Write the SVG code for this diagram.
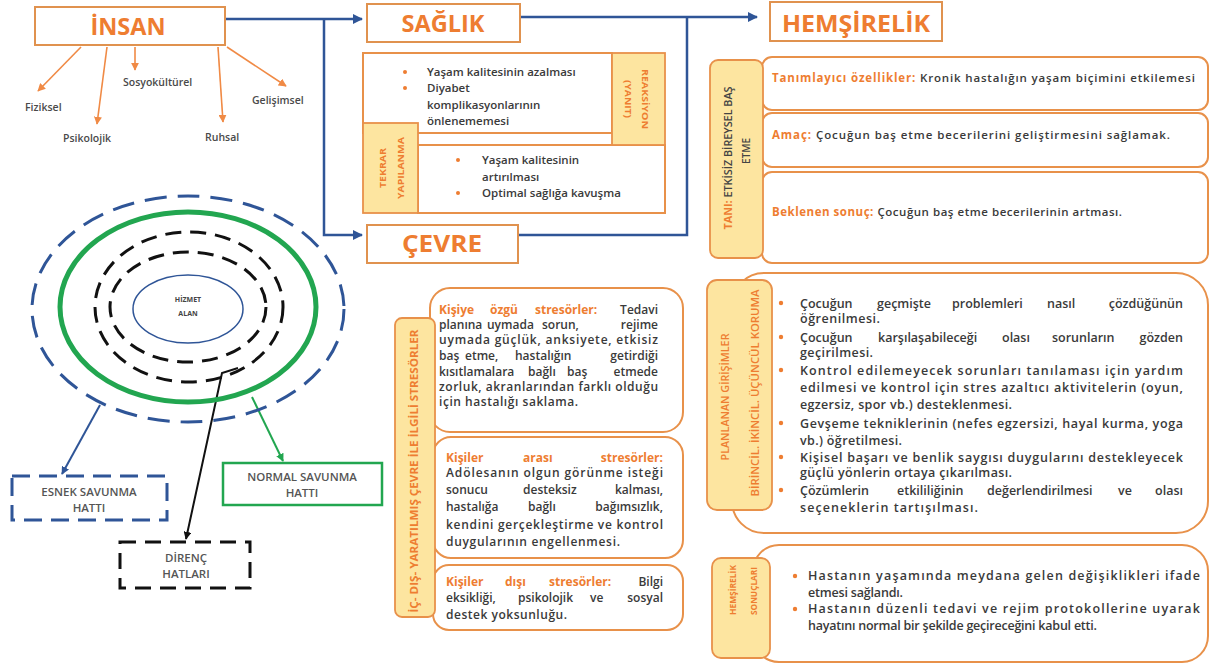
<svg xmlns="http://www.w3.org/2000/svg" width="1210" height="666" viewBox="0 0 1210 666">
<style>
text{font-family:"Open Sans","Liberation Sans",sans-serif;}
.title{font-size:24px;font-weight:700;fill:#ee7d31;text-anchor:middle;}
.tbox{fill:#fff;stroke:#e0924f;stroke-width:2;}
.ybox{fill:#fde5a0;stroke:#e8914a;stroke-width:1.8;}
.rbox{fill:#fff;stroke:#e8914a;stroke-width:2;}
.body{font-size:12px;font-weight:600;fill:#3a3a3a;}
.or{fill:#ee7d31;font-weight:700;}
.sm{font-size:10.5px;font-weight:600;fill:#4a4a4a;}
.vl{font-weight:700;fill:#ee7d31;text-anchor:middle;dominant-baseline:central;}
.dot{fill:#ee7d31;}
.blue{fill:none;stroke:#2f5597;stroke-width:2.5;}
.orl{fill:none;stroke:#f08a45;stroke-width:1.6;}
.cap{font-size:11.5px;font-weight:600;fill:#555;text-anchor:middle;}
</style>
<defs>
<marker id="ab" viewBox="0 0 10 10" refX="9" refY="5" markerWidth="4" markerHeight="4" orient="auto"><path d="M0,0L10,5L0,10z" fill="#2f5597"/></marker>
<marker id="ao" viewBox="0 0 10 10" refX="9" refY="5" markerWidth="5" markerHeight="5" orient="auto"><path d="M0,0L10,5L0,10z" fill="#f08a45"/></marker>
<marker id="ag" viewBox="0 0 10 10" refX="9" refY="5" markerWidth="4" markerHeight="4" orient="auto"><path d="M0,0L10,5L0,10z" fill="#22a650"/></marker>
<marker id="ak" viewBox="0 0 10 10" refX="9" refY="5" markerWidth="4" markerHeight="4" orient="auto"><path d="M0,0L10,5L0,10z" fill="#111"/></marker>
</defs>
<rect width="1210" height="666" fill="#fff"/>

<g id="connectors">
<path class="blue" d="M225,19H362" marker-end="url(#ab)"/>
<path class="blue" d="M324,19V235H362" marker-end="url(#ab)"/>
<path class="blue" d="M520,17H757" marker-end="url(#ab)"/>
<path class="blue" d="M518,235H687V17"/>
<path class="orl" d="M81,47L38,91" marker-end="url(#ao)"/>
<path class="orl" d="M107,47L97,124" marker-end="url(#ao)"/>
<path class="orl" d="M135,47V70" marker-end="url(#ao)"/>
<path class="orl" d="M218,47L223,122" marker-end="url(#ao)"/>
<path class="orl" d="M227,47L286,86" marker-end="url(#ao)"/>
<path d="M100,405L62,474" fill="none" stroke="#2f5597" stroke-width="2" marker-end="url(#ab)"/>
<path d="M252,397L283,461" fill="none" stroke="#22a650" stroke-width="2" marker-end="url(#ag)"/>
<path d="M238,368L222,373L186,539" fill="none" stroke="#111" stroke-width="2" marker-end="url(#ak)"/>
</g>

<g id="insan">
<rect class="tbox" x="35" y="7" width="190" height="38"/>
<text class="title" x="128" y="35" textLength="75" lengthAdjust="spacingAndGlyphs">İNSAN</text>
<text class="sm" x="25" y="111">Fiziksel</text>
<text class="sm" x="63" y="142">Psikolojik</text>
<text class="sm" x="123" y="86">Sosyokültürel</text>
<text class="sm" x="205" y="141">Ruhsal</text>
<text class="sm" x="252" y="104">Gelişimsel</text>
</g>

<g id="saglik">
<rect class="tbox" x="367" y="4" width="153" height="38"/>
<text class="title" x="443" y="32" textLength="83" lengthAdjust="spacingAndGlyphs">SAĞLIK</text>
</g>

<g id="saglik-detay">
<rect class="rbox" x="363" y="53" width="249" height="80"/>
<rect class="rbox" x="418" y="145" width="247" height="68"/>
<rect class="ybox" x="612" y="53" width="53" height="92"/>
<rect class="ybox" x="363" y="123" width="55" height="90"/>
<circle class="dot" cx="405" cy="72" r="2"/>
<circle class="dot" cx="405" cy="88" r="2"/>
<text class="body" style="font-size:11.5px"><tspan x="427" y="76">Yaşam kalitesinin azalması</tspan><tspan x="427" y="92">Diyabet</tspan><tspan x="427" y="109">komplikasyonlarının</tspan><tspan x="427" y="125">önlenememesi</tspan></text>
<circle class="dot" cx="458" cy="160" r="2"/>
<circle class="dot" cx="458" cy="193" r="2"/>
<text class="body" style="font-size:11.5px"><tspan x="482" y="164">Yaşam kalitesinin</tspan><tspan x="482" y="181">artırılması</tspan><tspan x="482" y="197">Optimal sağlığa kavuşma</tspan></text>
<text class="vl" style="font-size:9.5px" transform="translate(645,99) rotate(90)" textLength="60" lengthAdjust="spacingAndGlyphs">REAKSİYON</text>
<text class="vl" style="font-size:9.5px" transform="translate(628,99) rotate(90)" textLength="38" lengthAdjust="spacingAndGlyphs">(YANIT)</text>
<text class="vl" style="font-size:9.5px" transform="translate(382,168) rotate(-90)" textLength="40" lengthAdjust="spacingAndGlyphs">TEKRAR</text>
<text class="vl" style="font-size:9.5px" transform="translate(400,168) rotate(-90)" textLength="62" lengthAdjust="spacingAndGlyphs">YAPILANMA</text>
</g>

<g id="cevre">
<rect class="tbox" x="367" y="225" width="151" height="38"/>
<text class="title" x="442" y="252" textLength="80" lengthAdjust="spacingAndGlyphs">ÇEVRE</text>
</g>

<g id="hemsirelik">
<rect class="tbox" x="770" y="2" width="172" height="39"/>
<text class="title" x="856" y="32" textLength="148" lengthAdjust="spacingAndGlyphs">HEMŞİRELİK</text>
</g>

<g id="tani">
<rect class="rbox" x="762" y="57" width="446" height="53" rx="10"/>
<rect class="rbox" x="762" y="113" width="446" height="54" rx="10"/>
<rect class="rbox" x="762" y="172" width="446" height="91" rx="10"/>
<rect class="ybox" x="710" y="60" width="53" height="198" rx="8"/>
<text style="font-size:10px;font-weight:600;fill:#444;text-anchor:middle;dominant-baseline:central" transform="translate(728,158) rotate(-90)" textLength="143" lengthAdjust="spacingAndGlyphs"><tspan class="or">TANI:</tspan> ETKİSİZ BİREYSEL BAŞ</text>
<text style="font-size:10px;font-weight:600;fill:#444;text-anchor:middle;dominant-baseline:central" transform="translate(746,151) rotate(-90)">ETME</text>
<text class="body" style="font-size:11.5px" x="772" y="82" textLength="423"><tspan class="or">Tanımlayıcı özellikler:</tspan> Kronik hastalığın yaşam biçimini etkilemesi</text>
<text class="body" style="font-size:11.5px" x="772" y="139" textLength="398"><tspan class="or">Amaç:</tspan> Çocuğun baş etme becerilerini geliştirmesini sağlamak.</text>
<text class="body" style="font-size:11.5px" x="772" y="216" textLength="350"><tspan class="or">Beklenen sonuç:</tspan> Çocuğun baş etme becerilerinin artması.</text>
</g>

<g id="model">
<ellipse cx="188" cy="309" rx="156" ry="113" fill="none" stroke="#2f5597" stroke-width="3" stroke-dasharray="22 11"/>
<ellipse cx="188" cy="307" rx="128" ry="95" fill="none" stroke="#22a650" stroke-width="5"/>
<ellipse cx="189" cy="307" rx="94" ry="75" fill="none" stroke="#111" stroke-width="3" stroke-dasharray="16 9"/>
<ellipse cx="188" cy="307" rx="78" ry="55" fill="none" stroke="#111" stroke-width="3" stroke-dasharray="16 9"/>
<ellipse cx="188" cy="309" rx="55" ry="34" fill="none" stroke="#2f5597" stroke-width="1.5"/>
<text style="font-size:7px;font-weight:700;fill:#444;text-anchor:middle"><tspan x="188" y="302">HİZMET</tspan><tspan x="188" y="316">ALAN</tspan></text>
</g>

<g id="esnek">
<rect x="12" y="476" width="155" height="44" fill="#fff" stroke="#2f5597" stroke-width="3" stroke-dasharray="18 9"/>
<text class="cap"><tspan x="89" y="496">ESNEK SAVUNMA</tspan><tspan x="89" y="512">HATTI</tspan></text>
</g>

<g id="normal">
<rect x="223" y="463" width="159" height="42" fill="#fff" stroke="#22a650" stroke-width="2.5"/>
<text class="cap"><tspan x="302" y="481">NORMAL SAVUNMA</tspan><tspan x="302" y="497">HATTI</tspan></text>
</g>

<g id="direnc">
<rect x="120" y="542" width="130" height="46" fill="#fff" stroke="#111" stroke-width="3" stroke-dasharray="16 9"/>
<text class="cap"><tspan x="186" y="562">DİRENÇ</tspan><tspan x="186" y="578">HATLARI</tspan></text>
</g>

<g id="stresorler">
<rect class="rbox" x="430" y="288" width="253" height="144" rx="20"/>
<rect class="rbox" x="433" y="437" width="250" height="121" rx="18"/>
<rect class="rbox" x="433" y="565" width="250" height="65" rx="16"/>
<rect class="ybox" x="395" y="318" width="40" height="299" rx="7"/>
<text class="vl" style="font-size:10.5px" transform="translate(414,471) rotate(-90)" textLength="283" lengthAdjust="spacingAndGlyphs">İÇ- DIŞ- YARATILMIŞ ÇEVRE İLE İLGİLİ STRESÖRLER</text>
<text class="body" y="314"><tspan class="or" x="439">Kişiye</tspan><tspan class="or" x="490">özgü</tspan><tspan class="or" x="535">stresörler:</tspan></text>
<text class="body" x="658" y="314" text-anchor="end">Tedavi</text>
<text class="body" y="329"><tspan x="439">planına</tspan><tspan x="487">uymada</tspan><tspan x="542">sorun,</tspan></text>
<text class="body" x="658" y="329" text-anchor="end">rejime</text>
<text class="body" x="439" y="344" textLength="219">uymada güçlük, anksiyete, etkisiz</text>
<text class="body" y="360"><tspan x="439">baş</tspan><tspan x="465">etme,</tspan><tspan x="515">hastalığın</tspan></text>
<text class="body" x="658" y="360" text-anchor="end">getirdiği</text>
<text class="body" y="376"><tspan x="439">kısıtlamalara</tspan><tspan x="528">bağlı</tspan><tspan x="567">baş</tspan></text>
<text class="body" x="658" y="376" text-anchor="end">etmede</text>
<text class="body" x="439" y="391" textLength="219">zorluk, akranlarından farklı olduğu</text>
<text class="body" x="439" y="406" textLength="139">için hastalığı saklama.</text>

<text class="body or" y="462"><tspan x="446">Kişiler</tspan><tspan x="523">arası</tspan></text>
<text class="body or" x="663" y="462" text-anchor="end">stresörler:</text>
<text class="body" x="446" y="477" textLength="217">Adölesanın olgun görünme isteği</text>
<text class="body" y="494"><tspan x="446">sonucu</tspan><tspan x="523">desteksiz</tspan></text>
<text class="body" x="663" y="494" text-anchor="end">kalması,</text>
<text class="body" y="511"><tspan x="446">hastalığa</tspan><tspan x="528">bağlı</tspan></text>
<text class="body" x="663" y="511" text-anchor="end">bağımsızlık,</text>
<text class="body" x="446" y="529" textLength="217">kendini gerçekleştirme ve kontrol</text>
<text class="body" x="446" y="546" textLength="174">duygularının engellenmesi.</text>

<text class="body or" y="586"><tspan x="446">Kişiler</tspan><tspan x="505">dışı</tspan><tspan x="549">stresörler:</tspan></text>
<text class="body" x="663" y="586" text-anchor="end">Bilgi</text>
<text class="body" y="602"><tspan x="446">eksikliği,</tspan><tspan x="518">psikolojik</tspan><tspan x="590">ve</tspan></text>
<text class="body" x="663" y="602" text-anchor="end">sosyal</text>
<text class="body" x="446" y="619" textLength="121">destek yoksunluğu.</text>
</g>

<g id="planlanan">
<rect class="rbox" x="732" y="273" width="476" height="260" rx="32"/>
<rect class="ybox" x="707" y="280" width="65" height="230" rx="10"/>
<text class="vl" style="font-size:10px;font-weight:600" transform="translate(725,397) rotate(-90)" textLength="127" lengthAdjust="spacingAndGlyphs">PLANLANAN GİRİŞİMLER</text>
<text class="vl" style="font-size:10px;font-weight:600" transform="translate(755,393) rotate(-90)" textLength="207" lengthAdjust="spacingAndGlyphs">BİRİNCİL. İKİNCİL. ÜÇÜNCÜL KORUMA</text>
<g class="dot"><circle cx="781" cy="303" r="2.2"/><circle cx="781" cy="337" r="2.2"/><circle cx="781" cy="370" r="2.2"/><circle cx="781" cy="423" r="2.2"/><circle cx="781" cy="457" r="2.2"/><circle cx="781" cy="490" r="2.2"/></g>
<g class="body" style="font-size:12.5px">
<text y="307.5"><tspan x="800">Çocuğun</tspan><tspan x="877">geçmişte</tspan><tspan x="952">problemleri</tspan><tspan x="1047">nasıl</tspan></text>
<text x="1183" y="307.5" text-anchor="end">çözdüğünün</text>
<text x="800" y="322.5" textLength="80">öğrenilmesi.</text>
<text y="341.5"><tspan x="800">Çocuğun</tspan><tspan x="878">karşılaşabileceği</tspan><tspan x="1002">olası</tspan><tspan x="1052">sorunların</tspan></text>
<text x="1183" y="341.5" text-anchor="end">gözden</text>
<text x="800" y="356.5" textLength="73">geçirilmesi.</text>
<text x="800" y="374.5" textLength="383">Kontrol edilemeyecek sorunları tanılaması için yardım</text>
<text x="800" y="391.5" textLength="383">edilmesi ve kontrol için stres azaltıcı aktivitelerin (oyun,</text>
<text x="800" y="408.5" textLength="212">egzersiz, spor vb.) desteklenmesi.</text>
<text x="800" y="427.5" textLength="383">Gevşeme tekniklerinin (nefes egzersizi, hayal kurma, yoga</text>
<text x="800" y="444.5" textLength="102">vb.) öğretilmesi.</text>
<text x="800" y="461.5" textLength="383">Kişisel başarı ve benlik saygısı duygularını destekleyecek</text>
<text x="800" y="476.5" textLength="212">güçlü yönlerin ortaya çıkarılması.</text>
<text y="494.5"><tspan x="800">Çözümlerin</tspan><tspan x="897">etkililiğinin</tspan><tspan x="987">değerlendirilmesi</tspan><tspan x="1118">ve</tspan></text>
<text x="1183" y="494.5" text-anchor="end">olası</text>
<text x="800" y="511.5" textLength="178">seçeneklerin tartışılması.</text>
</g>
</g>

<g id="sonuclar">
<rect class="rbox" x="753" y="545" width="455" height="117" rx="26"/>
<rect class="ybox" x="712" y="558" width="58" height="100" rx="9"/>
<text class="vl" style="font-size:9px" transform="translate(732,590) rotate(-90)" textLength="50" lengthAdjust="spacingAndGlyphs">HEMŞİRELİK</text>
<text class="vl" style="font-size:9px" transform="translate(753,591) rotate(-90)" textLength="48" lengthAdjust="spacingAndGlyphs">SONUÇLARI</text>
<circle class="dot" cx="795" cy="576" r="2.2"/>
<circle class="dot" cx="795" cy="609" r="2.2"/>
<g class="body" style="font-size:12.5px">
<text x="808" y="580" textLength="392">Hastanın yaşamında meydana gelen değişiklikleri ifade</text>
<text x="808" y="596.5" textLength="95">etmesi sağlandı.</text>
<text x="808" y="613" textLength="392">Hastanın düzenli tedavi ve rejim protokollerine uyarak</text>
<text x="808" y="629.5" textLength="289">hayatını normal bir şekilde geçireceğini kabul etti.</text>
</g>
</g>
</svg>
